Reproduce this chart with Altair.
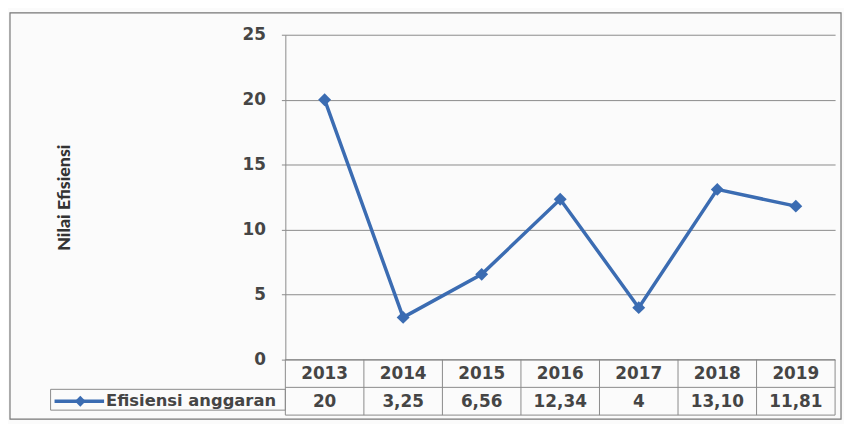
import altair as alt
import pandas as pd

years = ["2013", "2014", "2015", "2016", "2017", "2018", "2019"]
values = [20, 3.25, 6.56, 12.34, 4, 13.10, 11.81]
value_labels = ["20", "3,25", "6,56", "12,34", "4", "13,10", "11,81"]
series_name = "Efisiensi anggaran"
y_title = "Nilai Efisiensi"
y_ticks = [0, 5, 10, 15, 20, 25]

df = pd.DataFrame({"year": years, "value": values, "label": value_labels})
edges = pd.DataFrame({"year": years})
legend_df = pd.DataFrame({"name": [series_name]})

W, H = 555, 328
FONT = "DejaVu Sans"
TXT = "#454545"
BLUE = "#3b6cb2"
GRID = "#8a8a8a"
ROW1 = 28
ROW2 = 56
FS = 17
FW = "bold"

xs = alt.X("year:N", sort=years, axis=None,
           scale=alt.Scale(paddingInner=0, paddingOuter=0))

line = alt.Chart(df).mark_line(color=BLUE, strokeWidth=3.5).encode(
    x=xs,
    y=alt.Y("value:Q", scale=alt.Scale(domain=[0, 25], nice=False),
            axis=alt.Axis(values=y_ticks, title=y_title, titleFont="Lato",
                          titleFontSize=18, titleFontWeight=900,
                          titleColor="#333333", titlePadding=170,
                          labelFont=FONT,
                          labelFontSize=FS, labelFontWeight=FW,
                          labelColor=TXT, labelPadding=16,
                          tickSize=4, tickColor=GRID, domainColor=GRID,
                          gridColor=GRID, gridWidth=1, domainWidth=1)),
)
points = alt.Chart(df).mark_point(shape="diamond", filled=True, size=170,
                                  color=BLUE, opacity=1).encode(
    x=xs, y="value:Q")

# table lines
hrules = alt.Chart(pd.DataFrame({"r": [H, H + ROW1, H + ROW2]})).mark_rule(
    color=GRID, strokeWidth=1).encode(
    x=alt.value(0), x2=alt.value(W),
    y=alt.Y("r:Q", scale=None))
vrules = alt.Chart(edges).mark_rule(color=GRID, strokeWidth=1).encode(
    x=alt.X("year:N", sort=years, bandPosition=0, axis=None),
    y=alt.value(H), y2=alt.value(H + ROW2))
vlast = alt.Chart(edges.tail(1)).mark_rule(color=GRID, strokeWidth=1).encode(
    x=alt.value(W), y=alt.value(H), y2=alt.value(H + ROW2))

year_text = alt.Chart(df).mark_text(font=FONT, fontSize=FS, fontWeight=FW,
                                    color=TXT, baseline="middle").encode(
    x=xs, y=alt.value(H + ROW1 / 2 + 1), text="year:N")
val_text = alt.Chart(df).mark_text(font=FONT, fontSize=FS, fontWeight=FW,
                                   color=TXT, baseline="middle").encode(
    x=xs, y=alt.value(H + ROW1 + ROW1 / 2 + 1), text="label:N")

# legend cell
leg_box = alt.Chart(legend_df).mark_rect(fill=None, stroke=GRID,
                                         strokeWidth=1).encode(
    x=alt.value(-237), x2=alt.value(0),
    y=alt.value(H + 30), y2=alt.value(H + 51))
leg_line = alt.Chart(legend_df).mark_rule(color=BLUE, strokeWidth=3.5).encode(
    x=alt.value(-233), x2=alt.value(-183), y=alt.value(H + 42))
leg_pt = alt.Chart(legend_df).mark_point(shape="diamond", filled=True,
                                         size=120, color=BLUE,
                                         opacity=1).encode(
    x=alt.value(-207), y=alt.value(H + 42))
leg_txt = alt.Chart(legend_df).mark_text(font=FONT, fontSize=16.5,
                                         fontWeight=FW, color=TXT,
                                         align="left",
                                         baseline="middle").encode(
    x=alt.value(-181), y=alt.value(H + 42), text="name:N")

border = alt.Chart(legend_df).mark_rect(fill=None, stroke="#777777",
                                        strokeWidth=1.2).encode(
    x=alt.value(-278), x2=alt.value(561),
    y=alt.value(-22), y2=alt.value(388))

chart = alt.layer(border, line, points, hrules, vrules, vlast, year_text,
                  val_text, leg_box, leg_line, leg_pt, leg_txt).properties(
    width=W, height=H,
    autosize=alt.AutoSizeParams(type="none"),
    padding={"left": 280, "top": 25, "right": 9, "bottom": 63},
    background="#fbfbfb",
).configure_view(stroke=None)

chart.save("out.html", embed_options={"renderer": "svg", "actions": False})
